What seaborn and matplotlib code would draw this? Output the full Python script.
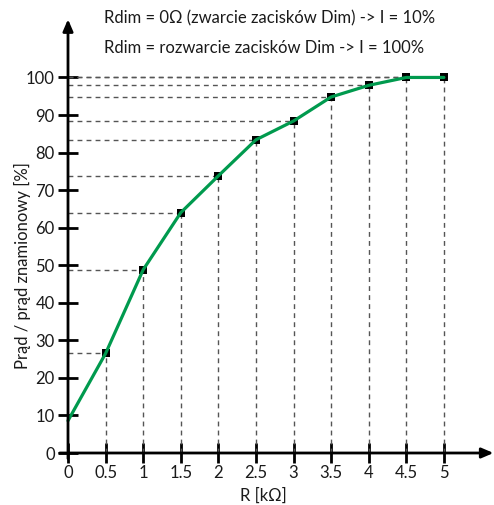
import matplotlib
matplotlib.use('Agg')
import matplotlib.pyplot as plt
import seaborn as sns
import pandas as pd

# values
r_kohm = [0, 0.5, 1, 1.5, 2, 2.5, 3, 3.5, 4, 4.5, 5]
current_pct = [8.6, 26.5, 48.8, 64.0, 73.8, 83.4, 88.4, 94.8, 97.9, 100, 100]
x_ticks = [0, 0.5, 1, 1.5, 2, 2.5, 3, 3.5, 4, 4.5, 5]
x_tick_labels = ['0', '0.5', '1', '1.5', '2', '2.5', '3', '3.5', '4', '4.5', '5']
y_ticks = [0, 10, 20, 30, 40, 50, 60, 70, 80, 90, 100]
note_lines = ['Rdim = 0Ω (zwarcie zacisków Dim) -> I = 10%',
              'Rdim = rozwarcie zacisków Dim -> I = 100%']

df = pd.DataFrame({'R': r_kohm, 'I': current_pct})
marked = df[df['R'] > 0]

sns.set_style('white')
plt.rcParams['font.family'] = ['Lato', 'DejaVu Sans']

GREEN = '#009a4e'
TXT = '#1a1a1a'
W, H = 494, 505
fig = plt.figure(figsize=(W / 100, H / 100), dpi=100)
ax = fig.add_axes([68 / W, 1 - 453 / H, (492 - 68) / W, (453 - 23) / H])
ax.set_xlim(0, 5.64)
ax.set_ylim(0, 114.5)

# guide lines from the axes to each point
ax.vlines(marked['R'], 0, marked['I'], colors='#555555', linewidth=1,
          linestyles=(0, (3.5, 3)), zorder=1)
ax.hlines(marked['I'], 0, marked['R'], colors='#555555', linewidth=1,
          linestyles=(0, (3.5, 3)), zorder=1)

sns.scatterplot(data=marked, x='R', y='I', marker='s', s=40, color='black',
                edgecolor='black', linewidth=0, ax=ax, zorder=3, clip_on=False)
sns.lineplot(data=df, x='R', y='I', color=GREEN, linewidth=2.3, ax=ax,
             zorder=4, clip_on=False)

for sp in ax.spines.values():
    sp.set_visible(False)

# axes drawn as arrows
arrow = dict(arrowstyle='-|>,head_length=0.7,head_width=0.3',
             lw=2, color='black', shrinkA=0, shrinkB=0)
ax.annotate('', xy=(5.66, 0), xytext=(-0.11, 0), xycoords='data',
            arrowprops=arrow, annotation_clip=False, zorder=5)
ax.annotate('', xy=(0, 115.5), xytext=(0, -1.5), xycoords='data',
            arrowprops=arrow, annotation_clip=False, zorder=5)

ax.set_xticks(x_ticks)
ax.set_xticklabels(x_tick_labels)
ax.set_yticks(y_ticks)
ax.tick_params(axis='both', direction='inout', length=15, width=2,
               color='black', labelsize=12, labelcolor=TXT,
               bottom=True, left=True)
ax.tick_params(axis='x', pad=1)
ax.tick_params(axis='y', pad=2)
ax.set_xlabel('')
ax.set_ylabel('')

ax.text(2.6, -11.3, 'R [kΩ]', ha='center', va='center', fontsize=12,
        color=TXT)
ax.text(-0.61, 50, 'Prąd / prąd znamionowy [%]', rotation=90, ha='center',
        va='center', fontsize=12, color=TXT)
ax.text(0.48, 115.8, note_lines[0], ha='left', va='center', fontsize=12,
        color=TXT, clip_on=False)
ax.text(0.48, 107.8, note_lines[1], ha='left', va='center', fontsize=12,
        color=TXT, clip_on=False)

fig.savefig('out.png', dpi=100)
